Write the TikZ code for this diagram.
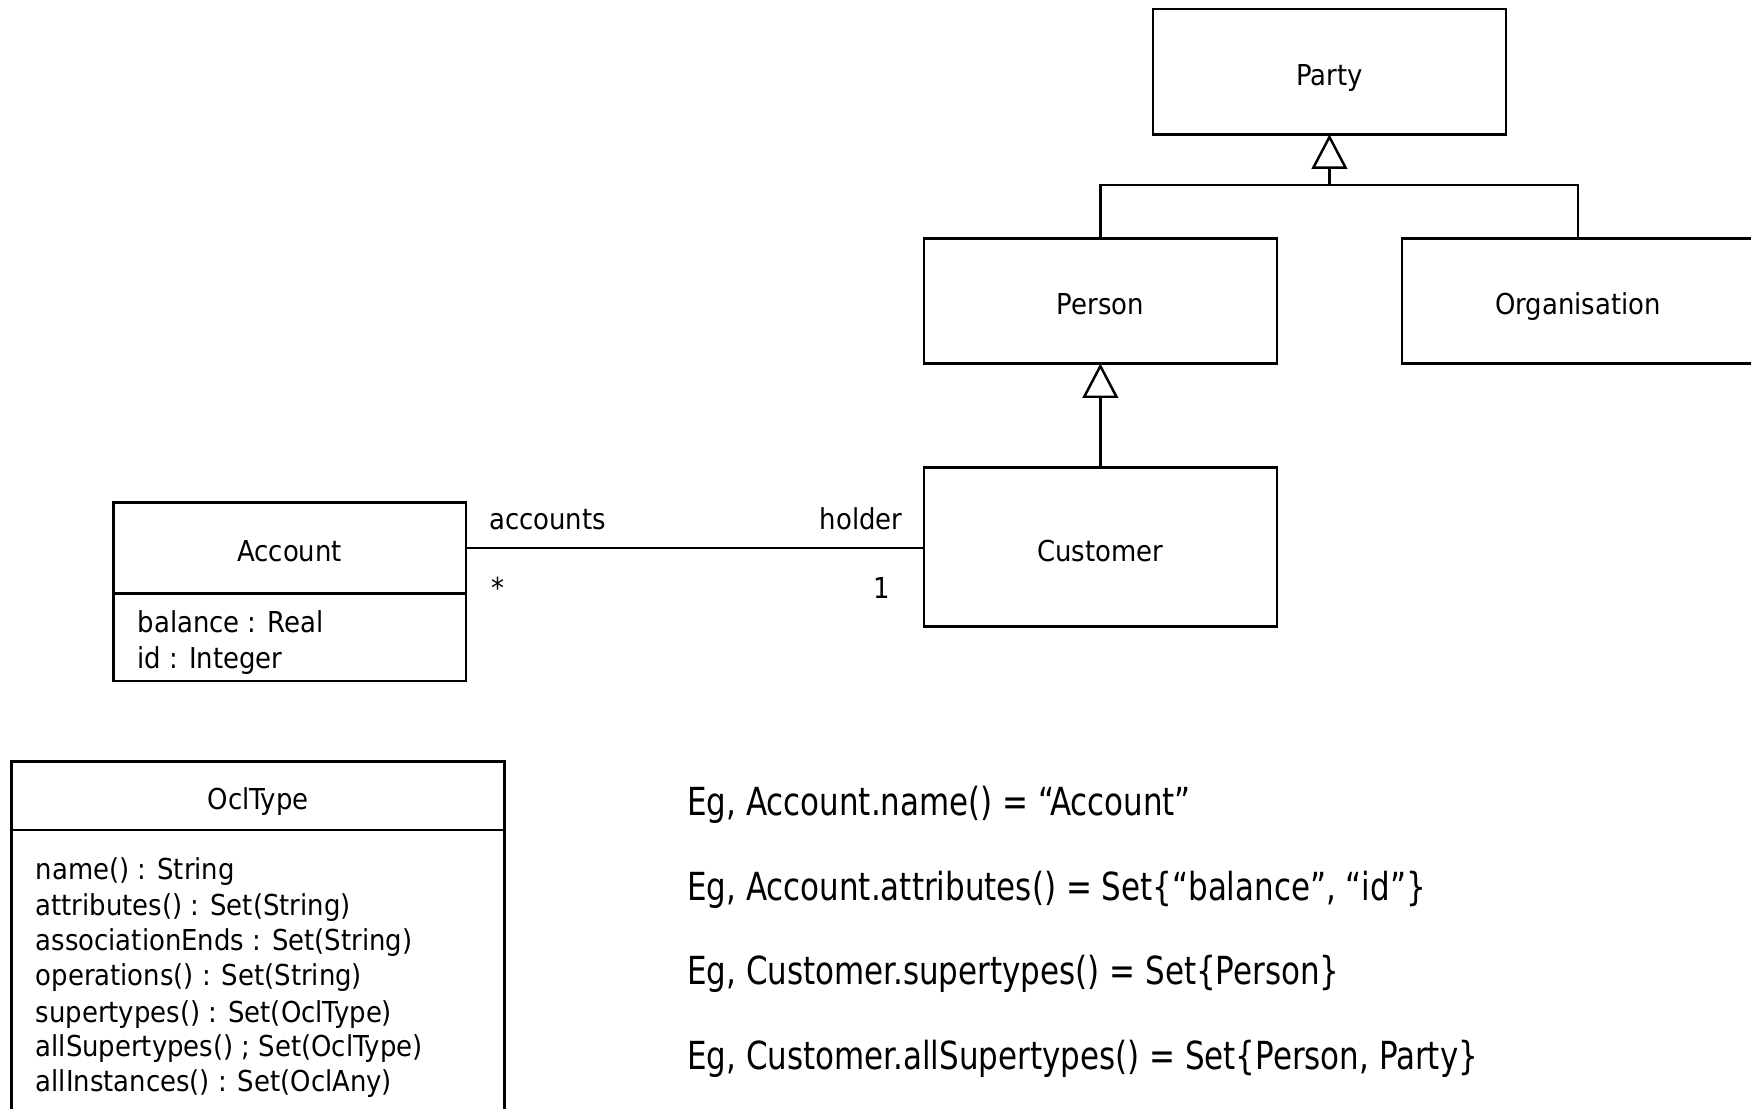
\documentclass[tikz,border=0pt]{standalone}
\usepackage{fontspec}
\setmainfont{DejaVu Sans Condensed}
\newfontfamily\egfont[FakeStretch=0.89]{DejaVu Sans Condensed}
\usetikzlibrary{arrows.meta,calc}
\begin{document}
\begin{tikzpicture}[x=0.011167cm, y=-0.011167cm,
  every node/.style={inner sep=0pt, outer sep=0pt},
  classbox/.style={draw, line width=0.7pt, minimum width=3.528cm,
    font=\fontsize{8.2pt}{10pt}\selectfont, text height=7.9pt, text depth=0pt},
  lbl/.style={font=\fontsize{8.2pt}{10pt}\selectfont},
  eg/.style={font=\egfont\fontsize{11pt}{13pt}\selectfont, anchor=base west},
  assoc/.style={line width=0.7pt},
  gen/.style={line width=0.7pt, -{Triangle[open, length=0.346cm, width=0.357cm]}}
]
\clip (0,0) rectangle (1568,993);

% class hierarchy
\node[classbox, minimum height=1.254cm] (party) at (1190.5,64.15) {Party};
\node[classbox, minimum height=1.251cm] (person) at (985.35,269.4) {Person};
\node[classbox, minimum height=1.251cm] (organisation) at (1413.2,269.4) {Organisation};
\node[classbox, minimum height=1.590cm] (customer) at (985.35,490) {Customer};

% Account with its attribute compartment
\node[classbox, minimum height=0.910cm] (account) at (259.4,490.55) {Account};
\node[classbox, minimum height=0.879cm, anchor=north] (accountattrs) at (account.south) {};
\node[lbl, anchor=base west] (attr1) at (123.3,566.6) {balance : Real};
\node[lbl, anchor=base west] (attr2) at (123.3,598.5) {id : Integer};

% generalisations
\coordinate (gjoin) at ($(party.south)+(0,45.4)$);
\draw[assoc] (person.north) |- (gjoin) -| (organisation.north);
\draw[gen] (gjoin) -- (party.south);
\draw[gen] (customer.north) -- (person.south);

% association Account -- Customer
\draw[assoc] (account.east) -- (account.east -| customer.west);
\node[lbl, anchor=base west] (rolea) at (438,474.6) {accounts};
\node[lbl, anchor=base east] (roleh) at (808,474.6) {holder};
\node[lbl, anchor=base west] (multa) at (440,535.8) {*};
\node[lbl, anchor=base east] (multh) at (797,535.8) {1};

% OclType class
\node[classbox, minimum width=4.931cm, minimum height=0.685cm] (ocltype) at (231.2,712.65) {OclType};
\node[classbox, minimum width=4.931cm, minimum height=2.978cm, anchor=north] (oclops) at (ocltype.south) {};
\foreach \t/\yy [count=\i] in {name() : String/788, attributes() : Set(String)/819.5,
    associationEnds : Set(String)/851, operations() : Set(String)/882.5,
    supertypes() : Set(OclType)/915.5, allSupertypes() ; Set(OclType)/946.5,
    allInstances() : Set(OclAny)/977.5}
  \node[lbl, anchor=base west] (op\i) at (32,\yy) {\t};

% examples
\node[eg] (eg1) at (615.5,730.5) {Eg, Account.name() = “Account”};
\node[eg] (eg2) at (615.5,806.5) {Eg, Account.attributes() = Set\{“balance”, “id”\}};
\node[eg] (eg3) at (615.5,882) {Eg, Customer.supertypes() = Set\{Person\}};
\node[eg] (eg4) at (615.5,958) {Eg, Customer.allSupertypes() = Set\{Person, Party\}};
\end{tikzpicture}
\end{document}
